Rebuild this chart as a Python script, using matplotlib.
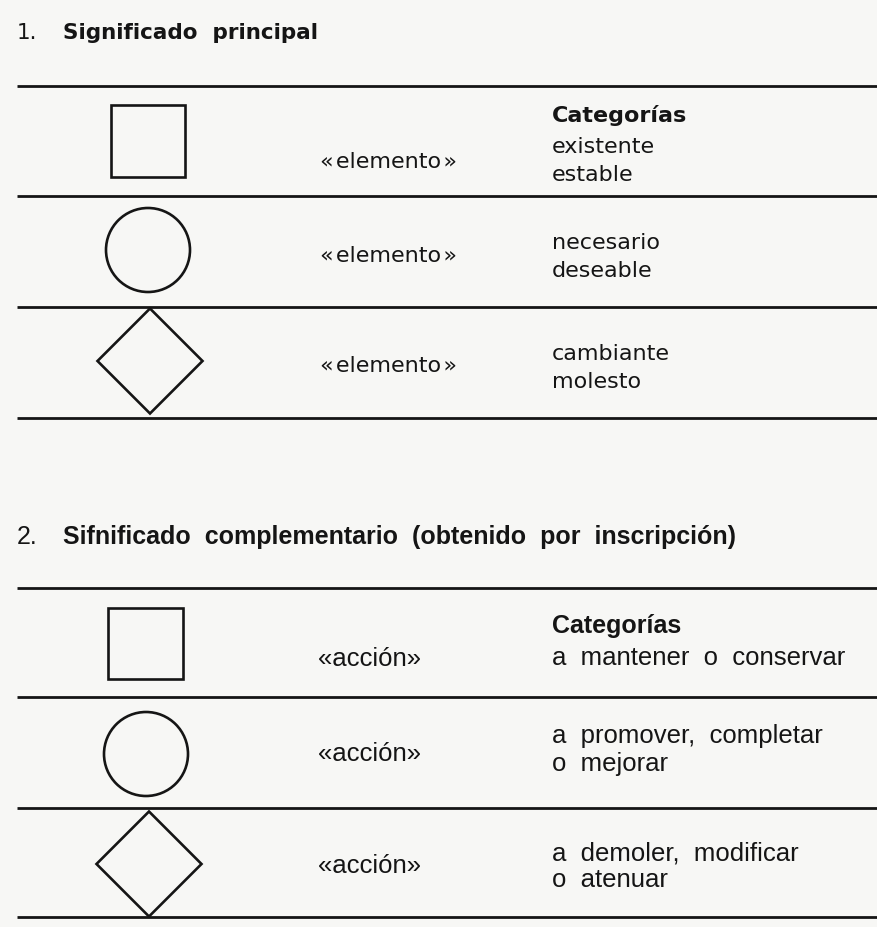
import matplotlib
matplotlib.use('Agg')
import matplotlib.pyplot as plt
from matplotlib.patches import Rectangle, Circle, Polygon

# section headings
section_nums = ['1.', '2.']
section_titles = ['Significado  principal',
                  'Sifnificado  complementario  (obtenido  por  inscripción)']

# row contents
shapes = ['square', 'circle', 'diamond']
row_labels = ['«\u200aelemento\u200a»', '«acción»']
header = 'Categorías'
categories_1 = [['existente', 'estable'],
                ['necesario', 'deseable'],
                ['cambiante', 'molesto']]
categories_2 = [['a  mantener  o  conservar'],
                ['a  promover,  completar', 'o  mejorar'],
                ['a  demoler,  modificar', 'o  atenuar']]

W, H = 878, 927
bg = '#f7f7f5'
ink = '#151515'

fig = plt.figure(figsize=(W / 100, H / 100), dpi=100, facecolor=bg)
ax = fig.add_axes([0, 0, 1, 1])
ax.set_xlim(0, W)
ax.set_ylim(H, 0)
ax.axis('off')

wide = ['DejaVu Sans']
narrow = ['Liberation Sans Narrow', 'Liberation Sans', 'DejaVu Sans']

# layout of each section (pixels, y down)
sections = [
    dict(title_y=33, lines=[86, 196, 307, 418], fam=wide, tsize=15.5, bsize=16, hsize=16,
         shape_x=[148, 148, 150], shape_y=[141, 250, 361], sq=(74, 72),
         label_x=320, label_y=[162, 256, 366],
         head_y=115, cat_y=[[147, 175], [243, 271], [354, 382]], cats=categories_1),
    dict(title_y=537, lines=[588, 697, 808, 917], fam=narrow, tsize=18, bsize=18.5, hsize=18,
         shape_x=[146, 146, 149], shape_y=[643, 754, 864], sq=(75, 71),
         label_x=318, label_y=[659, 754, 866],
         head_y=626, cat_y=[[658], [736, 764], [853, 880]], cats=categories_2),
]

for i, s in enumerate(sections):
    ax.text(17, s['title_y'], section_nums[i], fontsize=s['tsize'], family=s['fam'],
            color=ink, va='center', ha='left')
    ax.text(63, s['title_y'], section_titles[i], fontsize=s['tsize'], family=s['fam'],
            fontweight='bold', color=ink, va='center', ha='left')
    for y in s['lines']:
        ax.plot([17, W], [y, y], color=ink, lw=2.0, solid_capstyle='butt')

    for k, shp in enumerate(shapes):
        cx, cy = s['shape_x'][k], s['shape_y'][k]
        if shp == 'square':
            w, h = s['sq']
            p = Rectangle((cx - w / 2, cy - h / 2), w, h)
        elif shp == 'circle':
            p = Circle((cx, cy), 42)
        else:
            p = Polygon([(cx - 52.5, cy), (cx, cy - 52.5), (cx + 52.5, cy), (cx, cy + 52.5)])
        p.set_facecolor('none')
        p.set_edgecolor(ink)
        p.set_linewidth(1.9)
        p.set_joinstyle('miter')
        ax.add_patch(p)

        ax.text(s['label_x'], s['label_y'][k], row_labels[i], fontsize=s['bsize'],
                family=s['fam'], color=ink, va='center', ha='left')
        for line, y in zip(s['cats'][k], s['cat_y'][k]):
            ax.text(552, y, line, fontsize=s['bsize'], family=s['fam'],
                    color=ink, va='center', ha='left')

    ax.text(552, s['head_y'], header, fontsize=s['hsize'], family=s['fam'],
            fontweight='bold', color=ink, va='center', ha='left')

fig.savefig('out.png', dpi=100, facecolor=bg)
